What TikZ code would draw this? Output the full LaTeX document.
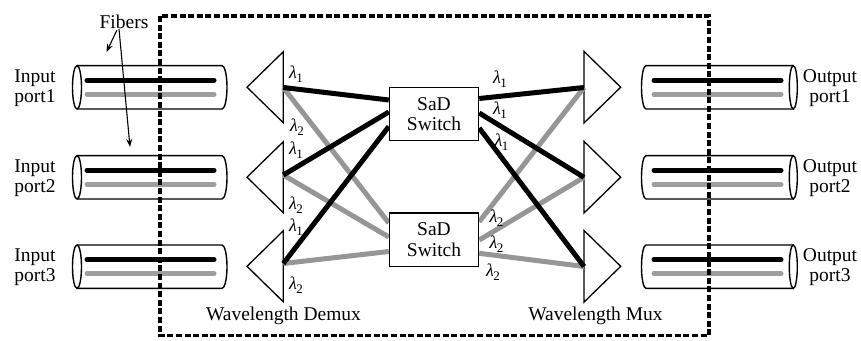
\documentclass[tikz,border=0pt]{standalone}
\usepackage{fontspec}
\setmainfont{Liberation Serif}
\usetikzlibrary{arrows.meta}
\definecolor{fibergrey}{RGB}{158,158,158}
\definecolor{linkgrey}{RGB}{150,150,150}
\newcommand\txtfont{\fontsize{19.5}{20.5}\selectfont}
\newcommand\wl[1]{\textit{λ}\kern-0.5pt\raisebox{-0.5ex}{\fontsize{13}{13}\selectfont #1}}
\begin{document}
\begin{tikzpicture}[x=1pt,y=-1pt,
  core/.style={line width=5pt, line cap=round},
  coreblk/.style={core, black},
  coregry/.style={core, fibergrey},
  linkblk/.style={line width=5pt, black},
  linkgry/.style={line width=5pt, linkgrey},
  shell/.style={line width=1.4pt, fill=white},
  prism/.style={line width=1.3pt, fill=white},
  switchbox/.style={draw, line width=1.4pt, fill=white, minimum width=89pt,
    minimum height=53.5pt, inner sep=0pt, align=center, font=\txtfont},
  txt/.style={align=center, font=\txtfont, inner sep=0pt},
  wlab/.style={font=\fontsize{18}{18}\selectfont, inner sep=0pt},
  pointer/.style={line width=1.1pt, -{Stealth[length=8pt,width=6pt]}},
  enclosure/.style={line width=3.6pt, dash pattern=on 6pt off 2.6pt}]
\useasboundingbox (0,0) rectangle (861,340);

% input and output fibers, each with two wavelength cores
\foreach \c/\n in {87.3/1,177.3/2,266.7/3}{
  \draw[shell] (77,\c-21.7) -- (222,\c-21.7)
     arc[start angle=-90,end angle=90,x radius=5,y radius=21.7] -- (77,\c+21.7);
  \draw[shell] (77,\c) ellipse[x radius=4.5, y radius=21.7];
  \draw[coreblk] (87,\c-7) -- (214,\c-7);
  \draw[coregry] (87,\c+7) -- (214,\c+7);
  \draw[shell] (793.3,\c-21.7) -- (646,\c-21.7)
     arc[start angle=-90,end angle=-270,x radius=4.5,y radius=21.7] -- (793.3,\c+21.7);
  \draw[shell] (793.3,\c) ellipse[x radius=4, y radius=21.7];
  \draw[coreblk] (654,\c-7) -- (781,\c-7);
  \draw[coregry] (654,\c+7) -- (781,\c+7);
}

% port labels
\node[txt] (in1) at (35,88) {Input\\port1};
\node[txt] (in2) at (35,178) {Input\\port2};
\node[txt] (in3) at (35,267) {Input\\port3};
\node[txt] (out1) at (830,88) {Output\\port1};
\node[txt] (out2) at (830,178) {Output\\port2};
\node[txt] (out3) at (830,267) {Output\\port3};

% demultiplexers (left) and multiplexers (right)
\foreach \c in {87.2,177.2,266.3}{
  \draw[prism] (283.3,\c-35.5) -- (247,\c) -- (283.3,\c+35.5) -- cycle;
  \draw[prism] (584,\c-35.8) -- (620.7,\c) -- (584,\c+35.8) -- cycle;
}
\coordinate (d1) at (283.3,87.5);
\coordinate (d2) at (283.3,175);
\coordinate (d3) at (283.3,263.5);
\coordinate (m1) at (584,87.5);
\coordinate (m2) at (584,177.3);
\coordinate (m3) at (584,266.5);

% switches
\node[switchbox] (sw1) at (434,114) {SaD\\Switch};
\node[switchbox] (sw2) at (434,239.7) {SaD\\Switch};

% wavelength 2 paths
\draw[linkgry] (d1) -- ([yshift=16.7pt]sw2.west);
\draw[linkgry] (d2) -- ([yshift=2.7pt]sw2.west);
\draw[linkgry] (d3) -- ([yshift=-11.8pt]sw2.west);
\draw[linkgry] ([yshift=18pt]sw2.east) -- (m1);
\draw[linkgry] ([yshift=-0.3pt]sw2.east) -- (m2);
\draw[linkgry] ([yshift=-13.6pt]sw2.east) -- (m3);
% wavelength 1 paths
\draw[linkblk] (d1) -- ([yshift=14pt]sw1.west);
\draw[linkblk] (d2) -- ([yshift=2pt]sw1.west);
\draw[linkblk] (d3) -- ([yshift=-12.5pt]sw1.west);
\draw[linkblk] ([yshift=15.5pt]sw1.east) -- (m1);
\draw[linkblk] ([yshift=1pt]sw1.east) -- (m2);
\draw[linkblk] ([yshift=-14pt]sw1.east) -- (m3);

% redraw switch frames over the link ends
\node[switchbox] at (sw1) {SaD\\Switch};
\node[switchbox] at (sw2) {SaD\\Switch};

% wavelength labels
\node[wlab] (a1) at (296,74) {\wl{1}};
\node[wlab] (a2) at (297,127) {\wl{2}};
\node[wlab] (a3) at (296,150) {\wl{1}};
\node[wlab] (a4) at (296,205) {\wl{2}};
\node[wlab] (a5) at (296,227) {\wl{1}};
\node[wlab] (a6) at (296,285) {\wl{2}};
\node[wlab] (b1) at (500,79) {\wl{1}};
\node[wlab] (b2) at (500,110) {\wl{1}};
\node[wlab] (b3) at (501.5,142) {\wl{1}};
\node[wlab] (b4) at (496.5,218) {\wl{2}};
\node[wlab] (b5) at (496.5,244) {\wl{2}};
\node[wlab] (b6) at (493,272) {\wl{2}};

% switching node boundary
\draw[enclosure] (160,16) rectangle (709,335.5);

% captions
\node[txt] (dmx) at (283.5,316) {Wavelength Demux};
\node[txt] (mx) at (595.5,316) {Wavelength Mux};
\node[txt] (fib) at (124,22) {Fibers};
\coordinate (fa) at (117,30);
\coordinate (fb) at (119,29);
\coordinate (ta) at (106.5,52);
\coordinate (tb) at (130,147);
\draw[pointer] (fa) -- (ta);
\draw[pointer] (fb) -- (tb);
\end{tikzpicture}
\end{document}
